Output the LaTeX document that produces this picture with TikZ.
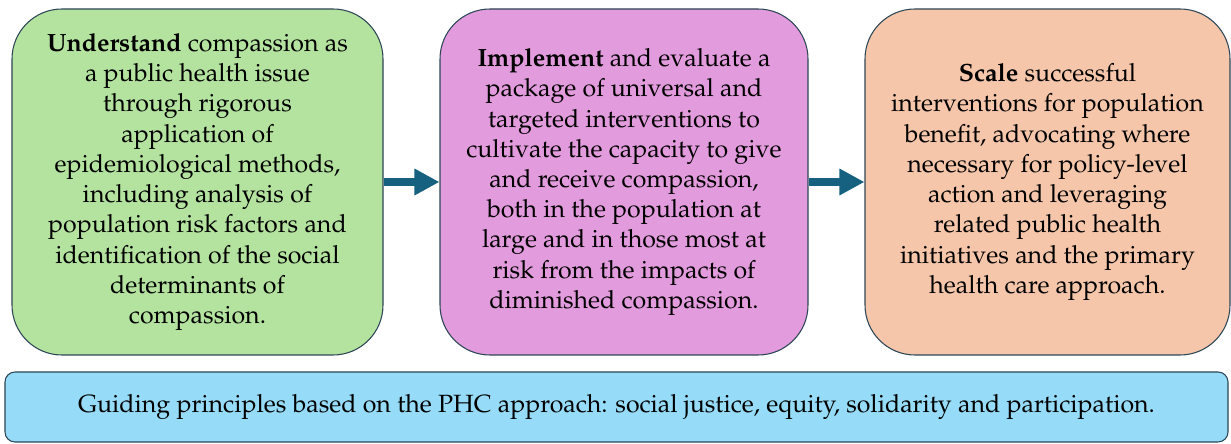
\documentclass[tikz,border=0pt]{standalone}
\usepackage[T1]{fontenc}
\usepackage{mathpazo}
\usepackage{tikz}
\usetikzlibrary{arrows.meta}
\usepackage{xcolor}
\definecolor{stageGreen}{HTML}{B4E3A0}
\definecolor{stagePink}{HTML}{E29BDC}
\definecolor{stagePeach}{HTML}{F5C6AA}
\definecolor{principleBlue}{HTML}{96DCF8}
\definecolor{boxEdge}{HTML}{2C4656}
\definecolor{flowTeal}{HTML}{166080}

\begin{document}
\begin{tikzpicture}[
  every node/.style={font=\fontsize{14.2}{17.2}\selectfont},
  stage/.style={draw=boxEdge,line width=0.6pt,rounded corners=10mm,minimum height=6.92cm,align=center,inner sep=0pt},
  greenstage/.style={stage,fill=stageGreen,minimum width=7.42cm},
  pinkstage/.style={stage,fill=stagePink,minimum width=7.36cm},
  peachstage/.style={stage,fill=stagePeach,minimum width=7.30cm},
  principle/.style={draw=boxEdge,line width=0.6pt,rounded corners=2mm,fill=principleBlue,minimum width=24.46cm,minimum height=1.4cm,align=center},
  flow/.style={-{Triangle[length=5mm,width=5mm]},draw=flowTeal,line width=4.5pt},
]
\useasboundingbox (0,0) rectangle (24.62,8.86);

\node[greenstage] (understand) at (3.95,5.22)
  {\textbf{Understand} compassion as\\a public health issue\\through rigorous\\application of\\epidemiological methods,\\including analysis of\\population risk factors and\\identification of the social\\determinants of\\compassion.};
\node[pinkstage] (implement) at (12.48,5.22)
  {\textbf{Implement} and evaluate a\\package of universal and\\targeted interventions to\\cultivate the capacity to give\\and receive compassion,\\both in the population at\\large and in those most at\\risk from the impacts of\\diminished compassion.};
\node[peachstage] (scale) at (20.95,5.22)
  {\textbf{Scale} successful\\interventions for population\\benefit, advocating where\\necessary for policy-level\\action and leveraging\\related public health\\initiatives and the primary\\health care approach.};

\node[principle] (principles) at (12.33,0.72)
  {Guiding principles based on the PHC approach: social justice, equity, solidarity and participation.};

\draw[flow] (understand.east) -- (implement.west);
\draw[flow] (implement.east) -- (scale.west);
\end{tikzpicture}
\end{document}
